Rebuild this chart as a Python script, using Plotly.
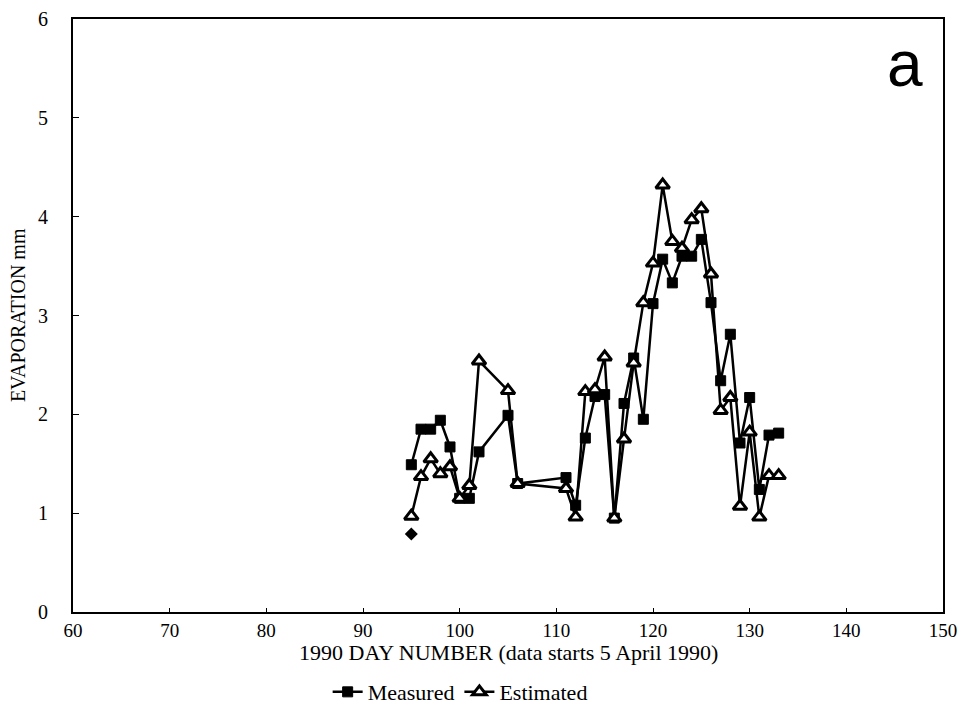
import plotly.graph_objects as go

# Measured (filled squares)
meas_days = [95, 96, 97, 98, 99, 100, 101, 102, 105, 106, 111, 112, 113, 114, 115, 116,
             117, 118, 119, 120, 121, 122, 123, 124, 125, 126, 127, 128, 129, 130, 131, 132, 133]
meas_vals = [1.49, 1.85, 1.85, 1.94, 1.67, 1.15, 1.15, 1.62, 1.99, 1.30, 1.36, 1.08, 1.76, 2.18, 2.20, 0.95,
             2.11, 2.57, 1.95, 3.12, 3.57, 3.33, 3.60, 3.60, 3.77, 3.13, 2.34, 2.81, 1.71, 2.17, 1.24, 1.79, 1.81]

# Estimated (open triangles)
est_days = [95, 96, 97, 98, 99, 100, 101, 102, 105, 106, 111, 112, 113, 114, 115, 116,
            117, 118, 119, 120, 121, 122, 123, 124, 125, 126, 127, 128, 129, 130, 131, 132, 133]
est_vals = [0.97, 1.37, 1.55, 1.40, 1.47, 1.15, 1.28, 2.54, 2.24, 1.30, 1.25, 0.96, 2.23, 2.25, 2.58, 0.95,
            1.75, 2.52, 3.13, 3.53, 4.32, 3.75, 3.68, 3.97, 4.08, 3.42, 2.04, 2.17, 1.07, 1.82, 0.96, 1.38, 1.38]

# Lone diamond point
extra_days = [95]
extra_vals = [0.79]

x_ticks = [60, 70, 80, 90, 100, 110, 120, 130, 140, 150]
y_ticks = [0, 1, 2, 3, 4, 5, 6]

serif = "Liberation Serif"

fig = go.Figure()
fig.add_trace(go.Scatter(
    x=meas_days, y=meas_vals, mode="lines+markers", name="Measured",
    line=dict(color="black", width=2.5),
    marker=dict(symbol="square", size=10, color="black", line=dict(color="black", width=1)),
))
fig.add_trace(go.Scatter(
    x=est_days, y=est_vals, mode="lines+markers", name="Estimated",
    line=dict(color="black", width=2.5),
    marker=dict(symbol="triangle-up", size=12, color="white", line=dict(color="black", width=3)),
))
fig.add_trace(go.Scatter(
    x=extra_days, y=extra_vals, mode="markers", showlegend=False,
    marker=dict(symbol="diamond", size=10, color="black"),
))

fig.update_layout(
    width=958, height=719,
    margin=dict(l=65, r=23, t=11, b=115),
    paper_bgcolor="white", plot_bgcolor="white",
    font=dict(family=serif, color="black", size=20),
    showlegend=True,
    legend=dict(orientation="h", x=0.445, xanchor="center", y=-0.135, yanchor="middle",
                font=dict(family=serif, size=22, color="black"), bgcolor="rgba(0,0,0,0)",
                itemwidth=30),
    annotations=[
        dict(text="a", x=0.956, y=0.924, xref="paper", yref="paper", showarrow=False,
             xanchor="center", yanchor="middle",
             font=dict(family="Liberation Sans", size=64, color="black")),
        dict(text="1990 DAY NUMBER (data starts 5 April 1990)", x=0.5, y=-0.0675,
             xref="paper", yref="paper", showarrow=False, xanchor="center", yanchor="middle",
             font=dict(family=serif, size=22, color="black")),
        dict(text="EVAPORATION mm", x=-0.063, y=0.501, textangle=-90,
             xref="paper", yref="paper", showarrow=False, xanchor="center", yanchor="middle",
             font=dict(family=serif, size=20, color="black")),
    ],
)
fig.update_xaxes(
    range=[60, 150], tickvals=x_ticks, ticktext=[str(v) for v in x_ticks],
    automargin=False, ticklabeloverflow="allow",
    showgrid=False, zeroline=False, showline=True, linecolor="black", linewidth=2, mirror=True,
    ticks="inside", ticklen=4, tickcolor="black", tickwidth=1,
    tickfont=dict(family=serif, size=19, color="black"),
)
fig.update_yaxes(
    range=[0, 6], tickvals=y_ticks, ticktext=[str(v) for v in y_ticks],
    automargin=False, ticklabeloverflow="allow",
    showgrid=False, zeroline=False, showline=True,
    linecolor="black", linewidth=2, mirror=True,
    ticks="inside", ticklen=6, tickcolor="black", tickwidth=1,
    tickfont=dict(family=serif, size=20, color="black"),
    ticklabelstandoff=19,
)

fig.write_html("out.html")
